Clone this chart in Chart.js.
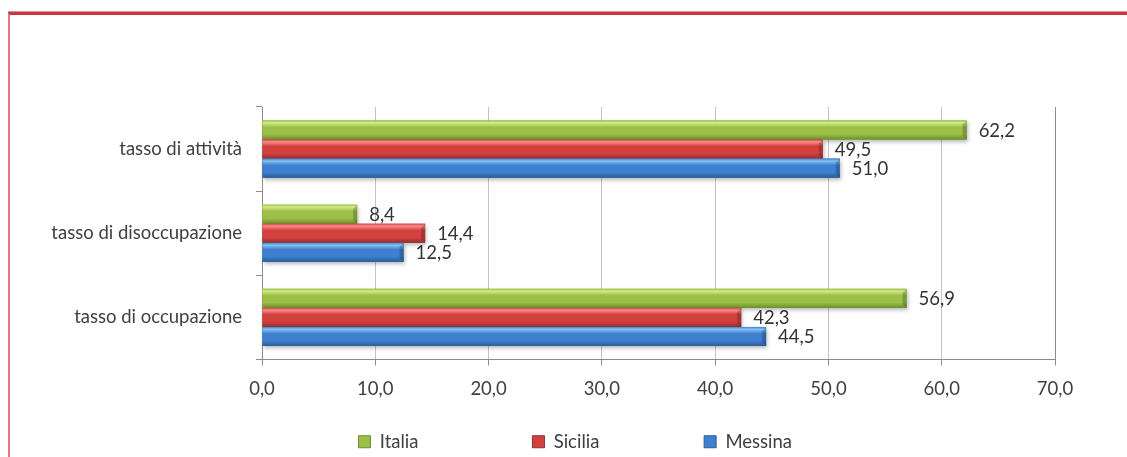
<!DOCTYPE html>
<html><head><meta charset="utf-8">
<script src="https://cdn.jsdelivr.net/npm/chart.js@4/dist/chart.umd.min.js"></script>
<style>
html,body{margin:0;padding:0;background:#fff;overflow:hidden}
#wrap{position:relative;width:1127px;height:457px}
#frame{position:absolute;left:8px;top:12px;width:1200px;height:500px;border-top:3px solid #c9363d;border-left:2px solid #e6787c;box-shadow:0 -1px 0 #c99a9a}
canvas{position:absolute;left:0;top:0}
</style></head>
<body><div id="wrap"><div id="frame"></div><canvas id="c" width="1127" height="457"></canvas></div>
<script>
const categories = ["tasso di attività", "tasso di disoccupazione", "tasso di occupazione"];
const seriesNames = ["Italia", "Sicilia", "Messina"];
const italia = [62.2, 8.4, 56.9];
const sicilia = [49.5, 14.4, 42.3];
const messina = [51.0, 12.5, 44.5];
const xTicks = [0, 10, 20, 30, 40, 50, 60, 70];

const FONT = 'Lato, "Open Sans", sans-serif';
const FS = 18.5;
const palette = [
  {light:'#d4ec86', mid:'#9cbf48', dark:'#6c8e2c'},
  {light:'#f68e8b', mid:'#d3413f', dark:'#952f2f'},
  {light:'#86c2f3', mid:'#3d80d0', dark:'#2b5b98'}
];
const legendGap = [12, 11, 18];
const fmt = v => v.toFixed(1).replace('.', ',');

const bevelPlugin = {
  id:'bevel',
  afterDatasetsDraw(chart){
    const ctx = chart.ctx;
    chart.data.datasets.forEach((ds, di) => {
      const meta = chart.getDatasetMeta(di);
      const p = palette[di];
      meta.data.forEach(el => {
        const {x, y, base, height} = el.getProps(['x','y','base','height'], true);
        const top = y - height/2, left = Math.min(base, x), w = Math.abs(x - base);
        ctx.save();
        ctx.shadowColor = 'rgba(0,0,0,0.28)';
        ctx.shadowBlur = 4; ctx.shadowOffsetX = 1; ctx.shadowOffsetY = 2;
        const g = ctx.createLinearGradient(0, top, 0, top + height);
        g.addColorStop(0, p.mid);
        g.addColorStop(0.12, p.light);
        g.addColorStop(0.35, p.mid);
        g.addColorStop(0.72, p.mid);
        g.addColorStop(1, p.dark);
        ctx.fillStyle = g;
        ctx.fillRect(left, top, w, height);
        ctx.restore();
        ctx.save();
        ctx.fillStyle = 'rgba(0,0,0,0.2)';
        ctx.beginPath();
        ctx.moveTo(x, top); ctx.lineTo(x - 4, top + 4); ctx.lineTo(x - 4, top + height - 4); ctx.lineTo(x, top + height); ctx.closePath();
        ctx.fill();
        ctx.restore();
      });
    });
    ctx.save();
    ctx.font = FS + 'px ' + FONT;
    ctx.fillStyle = '#333';
    ctx.textBaseline = 'middle';
    ctx.textAlign = 'left';
    chart.data.datasets.forEach((ds, di) => {
      const meta = chart.getDatasetMeta(di);
      meta.data.forEach((el, i) => {
        const {x, y} = el.getProps(['x','y'], true);
        ctx.fillText(fmt(ds.data[i]), x + 12, y + 1);
      });
    });
    ctx.restore();
  }
};

new Chart(document.getElementById('c'), {
  type:'bar',
  data:{
    labels: categories,
    datasets:[
      {label:seriesNames[0], data:italia, backgroundColor:palette[0].mid},
      {label:seriesNames[1], data:sicilia, backgroundColor:palette[1].mid},
      {label:seriesNames[2], data:messina, backgroundColor:palette[2].mid}
    ]
  },
  options:{
    indexAxis:'y',
    responsive:false,
    animation:false,
    devicePixelRatio:1,
    layout:{padding:{top:107, left:0, right:72, bottom:-4}},
    datasets:{bar:{categoryPercentage:0.68, barPercentage:1.0}},
    scales:{
      x:{
        min:0, max:70,
        afterBuildTicks(s){ s.ticks = xTicks.map(v => ({value:v})); },
        afterFit(s){ s.height = 70; },
        ticks:{callback:v => fmt(v), color:'#404040', font:{family:FONT, size:FS}, padding:12},
        grid:{color:ctx => ctx.tick && ctx.tick.value === 70 ? '#8c8c8c' : '#c4c4c4', tickLength:6, tickColor:'#8c8c8c'},
        border:{color:'#8c8c8c'}
      },
      y:{
        afterFit(s){ s.width = 262; },
        ticks:{color:'#404040', font:{family:FONT, size:FS}, padding:14},
        grid:{drawOnChartArea:false, offset:true, tickLength:6, color:'#8c8c8c'},
        border:{color:'#8c8c8c'}
      }
    },
    plugins:{
      legend:{
        position:'bottom',
        fullSize:false,
        labels:{boxWidth:12, boxHeight:12, padding:3, color:'#404040',
          font:{family:FONT, size:FS},
          generateLabels(chart){
            return chart.data.datasets.map((ds, i) => ({
              text: ds.label + '\u2002'.repeat(legendGap[i]),
              fillStyle: palette[i].mid,
              strokeStyle: palette[i].dark,
              lineWidth: 1,
              hidden: false,
              datasetIndex: i,
              fontColor: '#404040'
            }));
          }
        }
      },
      tooltip:{enabled:false}
    }
  },
  plugins:[bevelPlugin]
});
</script></body></html>
